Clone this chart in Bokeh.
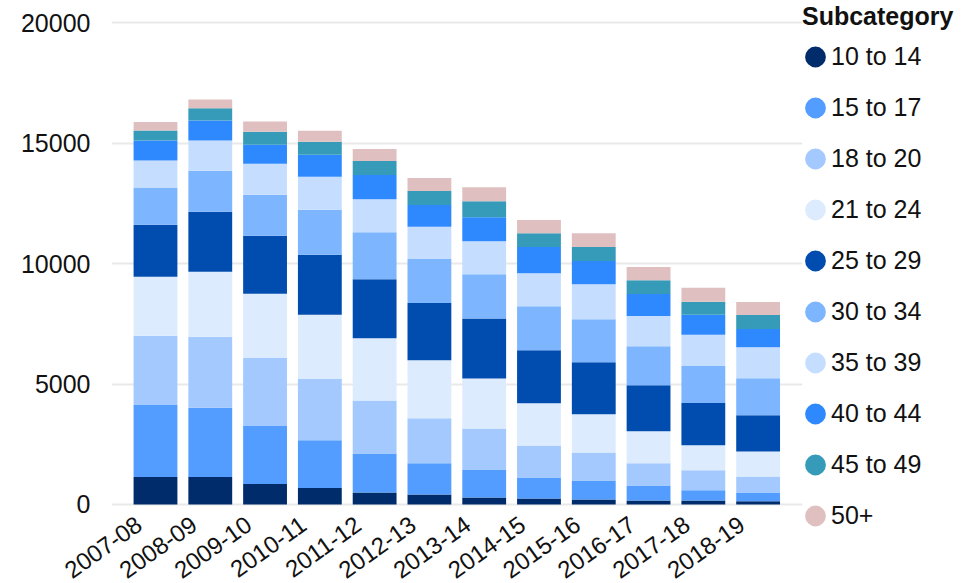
from bokeh.plotting import figure
from bokeh.models import Range1d, FixedTicker, ColumnDataSource, Legend, LegendItem
from bokeh.embed import file_html
from bokeh.resources import INLINE

years = ["2007-08", "2008-09", "2009-10", "2010-11", "2011-12", "2012-13",
         "2013-14", "2014-15", "2015-16", "2016-17", "2017-18", "2018-19"]
subcategories = ["10 to 14", "15 to 17", "18 to 20", "21 to 24", "25 to 29",
                 "30 to 34", "35 to 39", "40 to 44", "45 to 49", "50+"]
y_ticks = [0, 5000, 10000, 15000, 20000]

s10_14 = [1140, 1140, 850, 680, 500, 420, 290, 250, 210, 170, 170, 130]
s15_17 = [2990, 2870, 2410, 1990, 1620, 1290, 1160, 870, 790, 620, 420, 370]
s18_20 = [2870, 2950, 2820, 2540, 2200, 1870, 1700, 1330, 1160, 920, 830, 660]
s21_24 = [2450, 2700, 2660, 2660, 2580, 2410, 2080, 1750, 1580, 1330, 1040, 1040]
s25_29 = [2160, 2490, 2410, 2490, 2450, 2370, 2490, 2200, 2160, 1910, 1750, 1500]
s30_34 = [1540, 1700, 1700, 1870, 1950, 1830, 1830, 1830, 1790, 1620, 1540, 1540]
s35_39 = [1120, 1250, 1290, 1370, 1370, 1330, 1370, 1370, 1450, 1250, 1290, 1290]
s40_44 = [830, 830, 790, 910, 1000, 910, 1000, 1080, 960, 910, 830, 750]
s45_49 = [420, 510, 540, 540, 580, 580, 660, 580, 580, 580, 540, 580]
s50_plus = [350, 370, 420, 460, 500, 540, 580, 540, 580, 540, 580, 540]

colors = ["#002C6B", "#529DFF", "#A3C9FF", "#DDEBFF", "#004DAF",
          "#7EB5FF", "#C5DEFF", "#2E89FF", "#369BB8", "#E0BFC0"]

series = [s10_14, s15_17, s18_20, s21_24, s25_29, s30_34, s35_39, s40_44, s45_49, s50_plus]
keys = ["k%d" % i for i in range(len(series))]
data = {"x": list(range(len(years)))}
for k, s in zip(keys, series):
    data[k] = s
source = ColumnDataSource(data)

FONT = "Liberation Sans"
TXT = "#111111"
FS = "25px"

p = figure(frame_width=691, frame_height=505, output_backend="svg", toolbar_location=None,
           x_range=Range1d(-0.803, 11.81), y_range=Range1d(-124.5, 20830),
           min_border_left=111, min_border_right=0, min_border_top=2,
           min_border_bottom=60)
p.outline_line_color = None
p.background_fill_color = "white"
p.border_fill_color = "white"

p.vbar_stack(keys, x="x", width=0.8, source=source, color=colors, line_color=None)

p.xgrid.grid_line_color = None
p.ygrid.grid_line_color = "#e9e9e9"
p.ygrid.grid_line_width = 2
p.yaxis.ticker = FixedTicker(ticks=y_ticks)
shift = -0.3
xt = [round(i + shift, 2) for i in range(len(years))]
p.xaxis.ticker = FixedTicker(ticks=xt)
p.xaxis.major_label_overrides = {t: y for t, y in zip(xt, years)}

for ax in (p.xaxis[0], p.yaxis[0]):
    ax.axis_line_color = None
    ax.major_tick_line_color = None
    ax.minor_tick_line_color = None
    ax.major_tick_out = 0
    ax.major_tick_in = 0
    ax.major_label_text_font = FONT
    ax.major_label_text_font_size = FS
    ax.major_label_text_color = TXT
p.xaxis.major_label_text_font_size = "24px"
p.yaxis.major_label_standoff = 21
p.xaxis.major_label_standoff = 14
p.xaxis.major_label_orientation = 0.62

# legend with circular swatches
items = []
nan = float("nan")
for name, c in zip(subcategories, colors):
    r = p.ellipse(x=[nan], y=[nan], width=20, height=20, width_units="screen",
                  height_units="screen", fill_color=c, line_color=None)
    items.append(LegendItem(label=name, renderers=[r]))

legend = Legend(items=items, title="Subcategory", location="top_left",
                margin=0, padding=0, spacing=0, glyph_width=26, glyph_height=51,
                label_standoff=3, label_text_font=FONT, label_text_font_size=FS,
                label_text_color=TXT, title_text_font=FONT, title_text_font_size=FS,
                title_text_font_style="bold", title_text_color=TXT, title_standoff=0,
                border_line_color=None, background_fill_alpha=0)
p.add_layout(legend, "right")

open("out.html", "w").write(file_html(p, INLINE))
